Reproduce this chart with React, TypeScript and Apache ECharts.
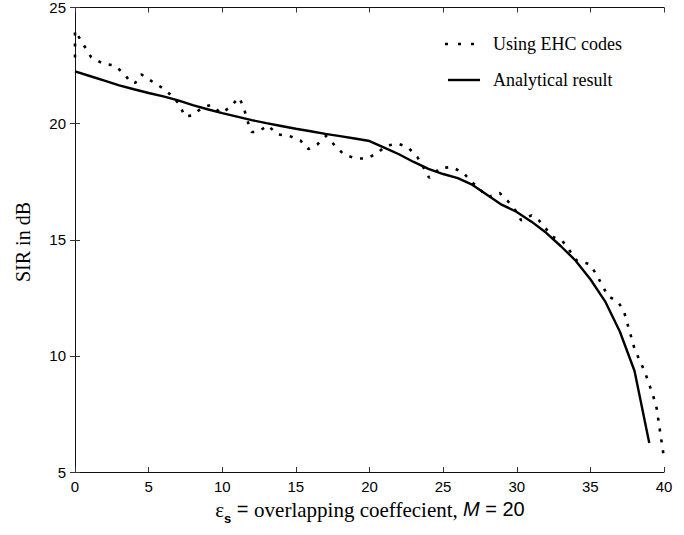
import React, { useEffect, useRef } from "react";
import * as echarts from "echarts";

const xTicks = [0, 5, 10, 15, 20, 25, 30, 35, 40];
const yTicks = [5, 10, 15, 20, 25];

const analyticalX = [0, 1, 2, 3, 4, 5, 6, 7, 8, 9, 10, 11, 12, 13, 14, 15, 16, 17, 18, 19, 20, 21, 22, 23, 24, 25, 26, 27, 28, 29, 30, 31, 32, 33, 34, 35, 36, 37, 38, 39];
const analyticalY = [22.25, 22.05, 21.85, 21.65, 21.48, 21.32, 21.17, 21.0, 20.8, 20.62, 20.45, 20.3, 20.15, 20.02, 19.9, 19.78, 19.67, 19.56, 19.46, 19.36, 19.25, 18.97, 18.68, 18.35, 18.05, 17.83, 17.65, 17.36, 16.93, 16.5, 16.2, 15.78, 15.3, 14.72, 14.1, 13.3, 12.35, 11.05, 9.35, 6.25];

const ehcX = [0, 0, 1.1, 1.9, 2.7, 3.4, 3.8, 4.1, 4.5, 5.2, 5.9, 6.6, 7.1, 7.45, 7.95, 8.65, 9.2, 9.95, 10.5, 11.15, 11.45, 11.8, 12.0, 12.4, 13.1, 13.75, 14.55, 15.3, 15.85, 16.45, 17.05, 17.65, 18.2, 19.0, 19.8, 20.5, 21.1, 21.9, 22.6, 23.25, 23.65, 24.05, 24.8, 25.6, 26.35, 26.95, 28.05, 28.85, 29.4, 29.9, 30.3, 31.0, 31.5, 32.45, 33.1, 34.1, 34.95, 35.4, 36.2, 36.9, 37.3, 38.0, 38.7, 39.25, 39.5, 40.0];
const ehcY = [22.85, 24.0, 22.86, 22.58, 22.5, 22.1, 21.76, 21.76, 22.12, 21.83, 21.55, 21.19, 20.83, 20.31, 20.35, 20.69, 20.8, 20.45, 20.7, 21.12, 20.7, 19.95, 19.64, 19.64, 19.92, 19.54, 19.47, 19.28, 18.9, 19.1, 19.47, 19.06, 18.71, 18.5, 18.5, 18.71, 19.04, 19.14, 18.99, 18.56, 18.13, 17.67, 18.09, 18.13, 17.89, 17.49, 16.84, 17.01, 16.66, 16.27, 15.84, 16.05, 15.84, 15.12, 14.95, 14.09, 13.95, 13.52, 12.57, 12.32, 11.87, 10.3, 9.31, 8.31, 7.75, 5.6];

const legendNames = ["Using EHC codes", "Analytical result"];
const yTitle = "SIR in dB";

const SANS = "Liberation Sans, Arial, sans-serif";
const SERIF = "Liberation Serif, Times New Roman, serif";

export default function App() {
  const ref = useRef<HTMLDivElement>(null);
  useEffect(() => {
    if (!ref.current) return;
    const chart = echarts.init(ref.current, null, { renderer: "svg" });
    const axisLine = { show: true, lineStyle: { color: "#111", width: 1 } };
    const tick = { show: true, inside: true, length: 5, lineStyle: { color: "#333", width: 1 } };
    const xBase = { type: "value", min: xTicks[0], max: xTicks[xTicks.length - 1], interval: 5, splitLine: { show: false } };
    const yBase = { type: "value", min: yTicks[0], max: yTicks[yTicks.length - 1], interval: 5, splitLine: { show: false } };
    chart.setOption({
      animation: false,
      backgroundColor: "#fff",
      grid: { left: 75, right: 20, top: 7, bottom: 63, containLabel: false },
      xAxis: [
        { ...xBase, position: "bottom", axisLine, axisTick: tick,
          axisLabel: { color: "#000", fontFamily: SANS, fontSize: 15, margin: 7 } },
        { ...xBase, position: "top", axisLine, axisTick: tick, axisLabel: { show: false } },
      ],
      yAxis: [
        { ...yBase, position: "left", axisLine, axisTick: tick,
          axisLabel: { color: "#000", fontFamily: SANS, fontSize: 15, margin: 9 } },
        { ...yBase, position: "right", axisLine, axisTick: tick, axisLabel: { show: false } },
      ],
      series: [
        {
          name: legendNames[0], type: "line", xAxisIndex: 0, yAxisIndex: 0,
          showSymbol: false, symbol: "none",
          lineStyle: { color: "#000", width: 2.6, type: [3, 8], cap: "butt" },
          data: ehcX.map((x, i) => [x, ehcY[i]]),
        },
        {
          name: legendNames[1], type: "line", xAxisIndex: 0, yAxisIndex: 0,
          showSymbol: false, symbol: "none",
          lineStyle: { color: "#000", width: 2.4 },
          data: analyticalX.map((x, i) => [x, analyticalY[i]]),
        },
      ],
      graphic: [
        { type: "line", shape: { x1: 445, y1: 44, x2: 474, y2: 44 },
          style: { stroke: "#000", lineWidth: 2.6, lineDash: [3, 10] } },
        { type: "text", x: 493, y: 44,
          style: { text: legendNames[0], fontFamily: SERIF, fontSize: 18, fill: "#000", verticalAlign: "middle", align: "left" } },
        { type: "line", shape: { x1: 448, y1: 80, x2: 480, y2: 80 },
          style: { stroke: "#000", lineWidth: 2.4 } },
        { type: "text", x: 493, y: 80,
          style: { text: legendNames[1], fontFamily: SERIF, fontSize: 18, fill: "#000", verticalAlign: "middle", align: "left" } },
        { type: "text", x: 23, y: 242, rotation: Math.PI / 2,
          style: { text: yTitle, fontFamily: SERIF, fontSize: 20, fill: "#000", align: "center", verticalAlign: "middle" } },
        { type: "text", x: 370, y: 499,
          style: {
            text: "{e|ε}{s|s}{q| = }{t|overlapping coeffecient, }{m|M}{q| = 20}",
            align: "center", verticalAlign: "top", fill: "#000",
            rich: {
              e: { fontFamily: SERIF, fontSize: 21, lineHeight: 24, verticalAlign: "top" },
              s: { fontFamily: SANS, fontSize: 13, fontWeight: "bold", lineHeight: 14, padding: [13, 0, 0, 0], verticalAlign: "top" },
              q: { fontFamily: SANS, fontSize: 20, lineHeight: 24, verticalAlign: "top" },
              t: { fontFamily: SERIF, fontSize: 21, lineHeight: 24, verticalAlign: "top" },
              m: { fontFamily: SANS, fontSize: 20, fontStyle: "italic", lineHeight: 24, verticalAlign: "top" },
            },
          } },
      ],
    });
    return () => chart.dispose();
  }, []);
  return <div ref={ref} style={{ position: "absolute", left: 0, top: 0, width: 684, height: 535 }} />;
}
